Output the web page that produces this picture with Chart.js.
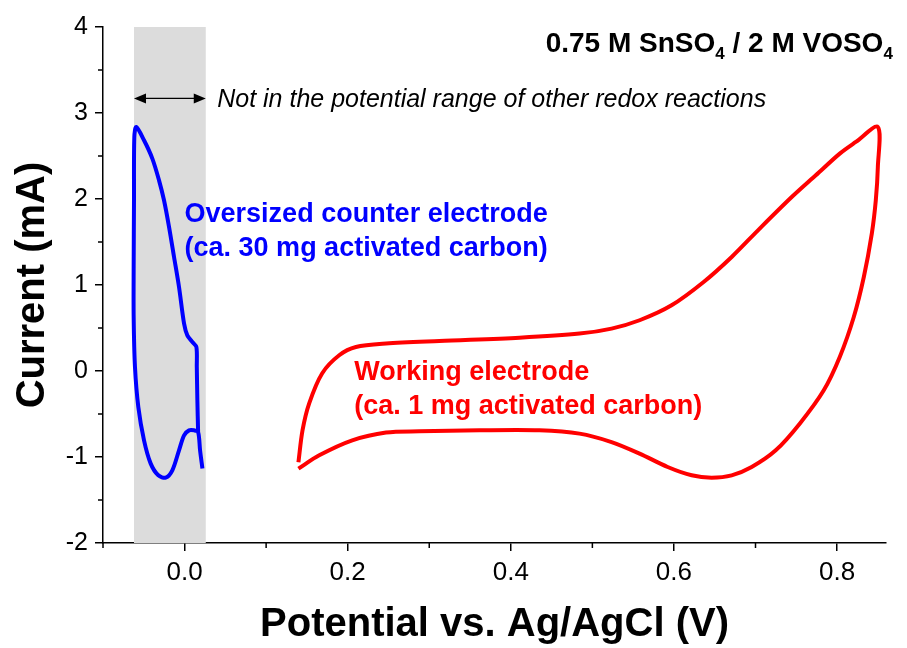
<!DOCTYPE html>
<html>
<head>
<meta charset="utf-8">
<script src="https://cdn.jsdelivr.net/npm/chart.js@4.4.0/dist/chart.umd.min.js"></script>
<style>
  html, body { margin: 0; padding: 0; background: #fff; }
  #wrap { width: 907px; height: 648px; position: relative; }
</style>
</head>
<body>
<div id="wrap"><canvas id="cvChart"></canvas></div>
<script>
// oversized counter electrode (blue loop)
const counterPotential = [0.0166, 0.0157, 0.0150, 0.0145, 0.0096, 0.0034, -0.0006, -0.0068, -0.0129, -0.0190,
  -0.0252, -0.0313, -0.0395, -0.0497, -0.0592, -0.0616, -0.0620, -0.0624, -0.0624, -0.0608,
  -0.0567, -0.0497, -0.0415, -0.0322, -0.0231, -0.0150, -0.0068, -0.0006, 0.0055, 0.0117,
  0.0166, 0.0190, 0.0219];
const counterCurrent = [-0.709, -0.341, 0.047, 0.279, 0.337, 0.415, 0.551, 0.977, 1.326, 1.674,
  1.985, 2.217, 2.470, 2.683, 2.837, 2.721, 1.985, 1.209, 0.628, 0.047,
  -0.419, -0.806, -1.077, -1.213, -1.240, -1.155, -0.922, -0.748, -0.690, -0.690,
  -0.709, -0.922, -1.135];

// working electrode (red loop)
const workingPotential = [0.1396, 0.1446, 0.1528, 0.1688, 0.1896, 0.2101, 0.247, 0.3124, 0.4106, 0.4842,
  0.5235, 0.5579, 0.5971, 0.6364, 0.6708, 0.7051, 0.7444, 0.7739, 0.8033, 0.8230,
  0.850, 0.850, 0.8475, 0.8426, 0.8328, 0.8205, 0.8033, 0.7837, 0.7542, 0.7248,
  0.6953, 0.6708, 0.6462, 0.6217, 0.5923, 0.5579, 0.5235, 0.4842, 0.4351, 0.3615,
  0.2878, 0.247, 0.2056, 0.1651, 0.1396];
const workingCurrent = [-1.06, -0.691, -0.376, -0.026, 0.183, 0.279, 0.319, 0.349, 0.388, 0.435,
  0.493, 0.590, 0.764, 1.035, 1.326, 1.656, 2.023, 2.276, 2.528, 2.663,
  2.837, 2.372, 1.985, 1.598, 1.093, 0.628, 0.163, -0.224, -0.612, -0.922,
  -1.116, -1.213, -1.240, -1.213, -1.116, -0.960, -0.826, -0.728, -0.690, -0.690,
  -0.701, -0.715, -0.806, -0.980, -1.135];

const xTicks = [0, 0.2, 0.4, 0.6, 0.8];
const xMinorTicks = [-0.1, 0.1, 0.3, 0.5, 0.7];
const yTicks = [-2, -1, 0, 1, 2, 3, 4];
const yMinorTicks = [-1.5, -0.5, 0.5, 1.5, 2.5, 3.5];
const shadedRange = [-0.062, 0.026];

const FONT = '"Liberation Sans", Arial, sans-serif';

const toPoints = (xs, ys) => xs.map((v, i) => ({x: v, y: ys[i]}));

const overlay = {
  id: 'overlay',
  beforeDatasetsDraw(chart) {
    const {ctx, chartArea, scales: {x}} = chart;
    const x0 = x.getPixelForValue(shadedRange[0]);
    const x1 = x.getPixelForValue(shadedRange[1]);
    ctx.save();
    ctx.fillStyle = '#dcdcdc';
    ctx.fillRect(x0, chartArea.top, x1 - x0, chartArea.bottom - chartArea.top);
    ctx.restore();
  },
  afterDraw(chart) {
    const {ctx, chartArea, scales: {x, y}} = chart;
    ctx.save();
    // minor ticks
    ctx.strokeStyle = '#000';
    ctx.lineWidth = 1.5;
    ctx.beginPath();
    xMinorTicks.forEach(v => {
      const px = x.getPixelForValue(v);
      ctx.moveTo(px, chartArea.bottom);
      ctx.lineTo(px, chartArea.bottom + 5);
    });
    yMinorTicks.forEach(v => {
      const py = y.getPixelForValue(v);
      ctx.moveTo(chartArea.left, py);
      ctx.lineTo(chartArea.left - 5, py);
    });
    ctx.stroke();

    // double arrow across the shaded range
    const ay = y.getPixelForValue(3.17);
    const ax0 = x.getPixelForValue(shadedRange[0]);
    const ax1 = x.getPixelForValue(shadedRange[1]);
    ctx.lineWidth = 1.3;
    ctx.beginPath();
    ctx.moveTo(ax0 + 6, ay);
    ctx.lineTo(ax1 - 6, ay);
    ctx.stroke();
    ctx.fillStyle = '#000';
    ctx.beginPath();
    ctx.moveTo(ax0, ay); ctx.lineTo(ax0 + 12, ay - 5); ctx.lineTo(ax0 + 12, ay + 5); ctx.closePath();
    ctx.moveTo(ax1, ay); ctx.lineTo(ax1 - 12, ay - 5); ctx.lineTo(ax1 - 12, ay + 5); ctx.closePath();
    ctx.fill();

    ctx.textBaseline = 'alphabetic';
    ctx.textAlign = 'left';
    ctx.font = 'italic 25px ' + FONT;
    ctx.fillText('Not in the potential range of other redox reactions',
      x.getPixelForValue(0.040), y.getPixelForValue(3.066));

    ctx.font = 'bold 27px ' + FONT;
    ctx.fillStyle = '#0000ff';
    ctx.fillText('Oversized counter electrode', x.getPixelForValue(0.0), y.getPixelForValue(1.729));
    ctx.fillText('(ca. 30 mg activated carbon)', x.getPixelForValue(0.0), y.getPixelForValue(1.334));

    ctx.fillStyle = '#ff0000';
    ctx.fillText('Working electrode', x.getPixelForValue(0.208), y.getPixelForValue(-0.108));
    ctx.fillText('(ca. 1 mg activated carbon)', x.getPixelForValue(0.208), y.getPixelForValue(-0.503));

    // electrolyte label with subscripts, right aligned
    const parts = [['0.75 M SnSO', false], ['4', true], [' / 2 M VOSO', false], ['4', true]];
    const mainFont = 'bold 28px ' + FONT;
    const subFont = 'bold 17px ' + FONT;
    let total = 0;
    parts.forEach(([t, sub]) => { ctx.font = sub ? subFont : mainFont; total += ctx.measureText(t).width; });
    let tx = x.getPixelForValue(0.8684) - total;
    const ty = y.getPixelForValue(3.706);
    ctx.fillStyle = '#000';
    parts.forEach(([t, sub]) => {
      ctx.font = sub ? subFont : mainFont;
      ctx.fillText(t, tx, sub ? ty + 7 : ty);
      tx += ctx.measureText(t).width;
    });
    ctx.restore();
  }
};

const ctx = document.getElementById('cvChart').getContext('2d');
const myChart = new Chart(ctx, {
  type: 'scatter',
  data: {
    datasets: [
      {
        label: 'Counter electrode',
        data: toPoints(counterPotential, counterCurrent),
        showLine: true,
        borderColor: '#0000ff',
        borderWidth: 4,
        pointRadius: 0,
        tension: 0.3
      },
      {
        label: 'Working electrode',
        data: toPoints(workingPotential, workingCurrent),
        showLine: true,
        borderColor: '#ff0000',
        borderWidth: 4,
        pointRadius: 0,
        tension: 0.3
      }
    ]
  },
  options: {
    responsive: true,
    maintainAspectRatio: false,
    animation: false,
    layout: { padding: { top: 27, right: 21, left: 0, bottom: 0 } },
    plugins: { legend: { display: false }, tooltip: { enabled: false } },
    scales: {
      x: {
        type: 'linear',
        min: -0.1,
        max: 0.86,
        afterBuildTicks: s => { s.ticks = xTicks.map(v => ({value: v})); },
        afterFit: s => { s.height = 105; },
        ticks: {
          color: '#000',
          font: { family: FONT, size: 26 },
          padding: 6,
          maxRotation: 0,
          callback: v => v.toFixed(1)
        },
        grid: { drawOnChartArea: false, drawTicks: true, tickLength: 8, color: '#000', lineWidth: 1.5 },
        border: { color: '#000', width: 1.5 },
        title: {
          display: true,
          text: 'Potential vs. Ag/AgCl (V)',
          color: '#000',
          font: { family: FONT, size: 40, weight: 'bold', lineHeight: 1 },
          padding: { top: 0, bottom: 3 }
        }
      },
      y: {
        type: 'linear',
        min: -2,
        max: 4,
        afterBuildTicks: s => { s.ticks = yTicks.map(v => ({value: v})); },
        afterFit: s => { s.width = 103; },
        ticks: {
          color: '#000',
          font: { family: FONT, size: 25 },
          padding: 7,
          callback: v => String(v)
        },
        grid: { drawOnChartArea: false, drawTicks: true, tickLength: 8, color: '#000', lineWidth: 1.5 },
        border: { color: '#000', width: 1.5 },
        title: {
          display: true,
          text: 'Current (mA)',
          color: '#000',
          font: { family: FONT, size: 40, weight: 'bold', lineHeight: 1 },
          padding: { top: 13, bottom: 0 }
        }
      }
    }
  },
  plugins: [overlay]
});
</script>
</body>
</html>
